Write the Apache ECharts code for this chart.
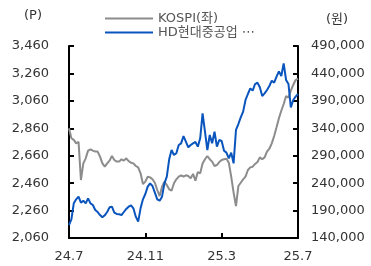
<!DOCTYPE html>
<html>
<head>
<meta charset="utf-8">
<script src="https://cdn.jsdelivr.net/npm/echarts@6/dist/echarts.min.js"></script>
<style>
  html, body { margin: 0; padding: 0; background: #fff; }
  #chart { width: 371px; height: 266px; }
</style>
</head>
<body>
<div id="chart"></div>
<script>
// 눈금 라벨
var tickLabels = ['24.7', '24.11', '25.3', '25.7'];
var tickStep = 32;

// KOSPI (좌축, P)
var kospi = [
  2860, 2787, 2775, 2750, 2762, 2483, 2604, 2641, 2697, 2707,
  2697, 2690, 2690, 2653, 2604, 2580, 2604, 2624, 2658, 2629,
  2617, 2617, 2634, 2624, 2641, 2621, 2609, 2604, 2585, 2575,
  2532, 2454, 2471, 2507, 2502, 2488, 2463, 2410, 2366, 2434,
  2471, 2446, 2415, 2405, 2459, 2488, 2507, 2517, 2507, 2517,
  2512, 2495, 2527, 2478, 2541, 2532, 2604, 2634, 2658, 2634,
  2617, 2585, 2592, 2614, 2629, 2634, 2638, 2609, 2507, 2391,
  2293, 2439, 2463, 2488, 2507, 2556, 2575, 2580, 2600, 2614,
  2648, 2634, 2648, 2690, 2711, 2750, 2804, 2867, 2933, 2988,
  3037, 3095, 3083, 3134, 3176, 3212, 3222
];

// HD현대중공업 (우축, 원)
var hd = [
  163700, 174000, 203200, 210500, 215400, 204400, 208100, 203200, 212300, 203200,
  200200, 191100, 187400, 181900, 177700, 181300, 187400, 195900, 197100, 186200,
  183800, 183200, 181900, 187400, 192900, 197100, 199600, 194100, 178900, 169800,
  194100, 210500, 220200, 233600, 239700, 234800, 222700, 210500, 208100, 215400,
  239700, 251800, 283400, 300400, 291300, 294400, 309500, 312600, 325900, 315600,
  305300, 309500, 312600, 315000, 306500, 321700, 367300, 333800, 300400, 327800,
  312600, 333800, 306500, 318700, 316800, 299200, 295600, 285200, 295600, 276100,
  336900, 347800, 360000, 370300, 391600, 402500, 412800, 408600, 420700, 423200,
  414700, 398900, 403700, 409800, 417100, 426800, 423200, 434100, 443800, 435300,
  458400, 428000, 420700, 378200, 391600, 397600, 402500
];

(function () {
  var chart = echarts.init(document.getElementById('chart'), null, { renderer: 'canvas' });
  var font = 'DejaVu Sans, Noto Sans CJK KR, sans-serif';
  var txt = '#333';

  var cats = kospi.map(function (v, i) { return i; });
  var showTick = function (i) { return i % tickStep === 0; };

  var option = {
    animation: false,
    textStyle: { fontFamily: font },
    grid: { left: 69, right: 73, top: 46, bottom: 28 },
    legend: {
      orient: 'vertical',
      left: 100,
      top: 7,
      itemWidth: 48,
      itemHeight: 2,
      itemGap: 1,
      icon: 'rect',
      textStyle: { fontFamily: font, fontSize: 13, color: '#555' },
      // 범례 칸이 좁아 두 번째 이름은 잘려 보임
      formatter: function (name) {
        return name === 'HD현대중공업(우)' ? 'HD현대중공업 ⋯' : name;
      },
      data: ['KOSPI(좌)', 'HD현대중공업(우)']
    },
    graphic: [
      { type: 'text', left: 24, top: 9, style: { text: '(P)', font: '13px ' + font, fill: txt } },
      { type: 'text', left: 326, top: 13, style: { text: '(원)', font: '13px ' + font, fill: txt } }
    ],
    xAxis: {
      type: 'category',
      data: cats,
      boundaryGap: false,
      axisLine: { lineStyle: { color: '#000', width: 2 } },
      axisTick: { inside: true, length: 5, interval: showTick, lineStyle: { color: '#000', width: 2 } },
      axisLabel: {
        interval: showTick,
        margin: 12,
        fontSize: 13,
        color: txt,
        fontFamily: font,
        formatter: function (v, i) { return tickLabels[i / tickStep]; }
      },
      splitLine: { show: false }
    },
    yAxis: [
      {
        type: 'value',
        min: 2060,
        max: 3460,
        interval: 200,
        axisLine: { show: true, lineStyle: { color: '#000', width: 2 } },
        axisTick: { show: true, inside: true, length: 5, lineStyle: { color: '#000', width: 2 } },
        axisLabel: {
          margin: 20, fontSize: 13, color: txt, fontFamily: font,
          formatter: function (v) { return v.toLocaleString('en-US'); }
        },
        splitLine: { show: false }
      },
      {
        type: 'value',
        min: 140000,
        max: 490000,
        interval: 50000,
        position: 'right',
        axisLine: { show: true, lineStyle: { color: '#000', width: 2 } },
        axisTick: { show: true, inside: true, length: 5, lineStyle: { color: '#000', width: 2 } },
        axisLabel: {
          margin: 13, fontSize: 13, color: txt, fontFamily: font,
          formatter: function (v) { return v.toLocaleString('en-US'); }
        },
        splitLine: { show: false }
      }
    ],
    series: [
      {
        name: 'KOSPI(좌)',
        type: 'line',
        yAxisIndex: 0,
        data: kospi,
        smooth: false,
        showSymbol: false,
        color: '#8c8c8c',
        lineStyle: { width: 2, color: '#8c8c8c' }
      },
      {
        name: 'HD현대중공업(우)',
        type: 'line',
        yAxisIndex: 1,
        data: hd,
        smooth: false,
        showSymbol: false,
        color: '#0a55bd',
        lineStyle: { width: 2, color: '#0a55bd' }
      }
    ]
  };

  chart.setOption(option);
})();
</script>
</body>
</html>
